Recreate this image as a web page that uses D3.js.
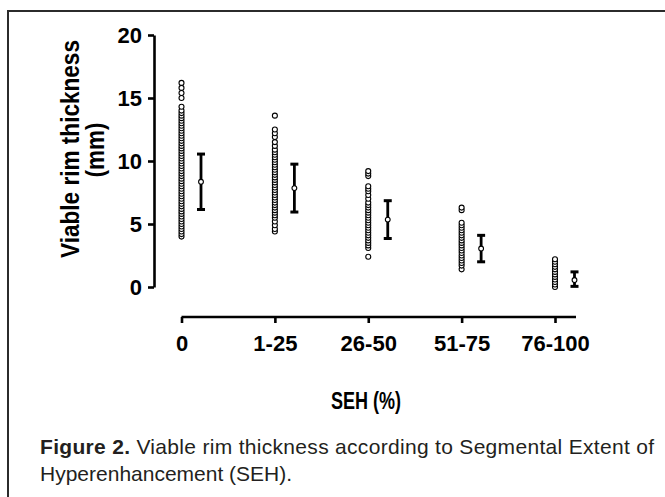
<!DOCTYPE html>
<html><head><meta charset="utf-8">
<script src="https://cdn.jsdelivr.net/npm/d3@7"></script>
<style>
html,body{margin:0;padding:0;background:#fff;}
svg{display:block;}
</style></head>
<body>
<svg id="chart" width="665" height="497"></svg>
<script>
const categories = ["0", "1-25", "26-50", "51-75", "76-100"];
const yTicks = [0, 5, 10, 15, 20];
const seg0 = [4.0,4.2,4.4,4.6,4.8,5.0,5.2,5.4,5.6,5.8,6.0,6.2,6.4,6.6,6.8,7.0,7.2,7.4,7.6,7.8,8.0,8.2,8.4,8.6,8.8,9.0,9.2,9.4,9.6,9.8,10.0,10.2,10.4,10.6,10.8,11.0,11.2,11.4,11.6,11.8,12.0,12.2,12.4,12.6,12.8,13.0,13.2,13.4,13.6,13.8,14.0,14.3,15.0,15.4,15.8,16.2];
const seg1 = [4.4,4.6,4.9,5.2,5.5,5.7,5.9,6.1,6.3,6.5,6.7,6.9,7.1,7.3,7.5,7.7,7.9,8.1,8.3,8.5,8.7,8.9,9.1,9.3,9.5,9.7,9.9,10.1,10.3,10.5,10.7,10.9,11.2,11.5,11.9,12.2,12.5,13.6];
const seg2 = [2.4,3.1,3.3,3.5,3.7,3.9,4.1,4.3,4.5,4.7,4.9,5.1,5.3,5.5,5.7,5.9,6.1,6.3,6.5,6.7,7.0,7.3,7.6,7.8,8.0,8.8,9.0,9.2];
const seg3 = [1.4,1.7,1.9,2.1,2.3,2.5,2.7,2.9,3.1,3.3,3.5,3.7,3.9,4.1,4.3,4.5,4.7,4.9,5.1,6.1,6.3];
const seg4 = [0.0,0.2,0.4,0.6,0.8,1.0,1.2,1.4,1.6,1.8,2.0,2.2];
const means = [8.35, 7.85, 5.35, 3.05, 0.55];
const lowers = [6.15, 5.95, 3.85, 2.0, 0.05];
const uppers = [10.55, 9.75, 6.85, 4.1, 1.2];

const groups = [seg0, seg1, seg2, seg3, seg4];
const svg = d3.select("#chart");
const FONT = "'Liberation Sans', Arial, Helvetica, sans-serif";

// frame
svg.append("rect").attr("x", 8).attr("y", 11).attr("width", 680).attr("height", 520)
  .attr("fill", "none").attr("stroke", "#2b2b2b").attr("stroke-width", 2);

const y = d3.scaleLinear().domain([0, 20]).range([287, 35]);
const x = d3.scalePoint().domain(categories).range([181.5, 555]);
const barOffset = 19.5;

// Y axis
const yAxis = svg.append("g").attr("transform", "translate(154,0)")
  .call(d3.axisLeft(y).tickValues(yTicks).tickSize(6).tickSizeOuter(0).tickPadding(6));
yAxis.select(".domain").attr("stroke", "#000").attr("stroke-width", 2.6);
yAxis.selectAll(".tick line").attr("stroke", "#000").attr("stroke-width", 2.6);
yAxis.selectAll(".tick text").attr("font-family", FONT).attr("font-weight", "bold")
  .attr("font-size", 22).attr("fill", "#000");

// X axis
const xAxis = svg.append("g").attr("transform", "translate(0,317)")
  .call(d3.axisBottom(x).tickSize(6).tickSizeOuter(0).tickPadding(12));
xAxis.select(".domain").attr("d", "M" + x.range()[0] + ",0H" + (x.range()[1] + 21))
  .attr("stroke", "#000").attr("stroke-width", 2.6);
xAxis.selectAll(".tick line").attr("stroke", "#000").attr("stroke-width", 2.6);
xAxis.selectAll(".tick text").attr("font-family", FONT).attr("font-weight", "bold")
  .attr("font-size", 22).attr("fill", "#000");

// dots
groups.forEach((vals, i) => {
  svg.append("g").selectAll("circle").data(vals).join("circle")
    .attr("cx", x(categories[i])).attr("cy", d => y(d)).attr("r", 2.5)
    .attr("fill", "#fff").attr("stroke", "#000").attr("stroke-width", 1.1);
});

// error bars
const eb = svg.append("g");
categories.forEach((c, i) => {
  const cx = x(c) + barOffset;
  eb.append("line").attr("x1", cx).attr("x2", cx).attr("y1", y(lowers[i])).attr("y2", y(uppers[i]))
    .attr("stroke", "#000").attr("stroke-width", 2.8);
  [lowers[i], uppers[i]].forEach(v => {
    eb.append("line").attr("x1", cx - 4).attr("x2", cx + 4).attr("y1", y(v)).attr("y2", y(v))
      .attr("stroke", "#000").attr("stroke-width", 3);
  });
  eb.append("circle").attr("cx", cx).attr("cy", y(means[i])).attr("r", 2.4)
    .attr("fill", "#fff").attr("stroke", "#000").attr("stroke-width", 1.1);
});

// Y title
svg.append("text").attr("transform", "translate(79,149) rotate(-90)")
  .attr("text-anchor", "middle").attr("font-family", FONT).attr("font-weight", "bold")
  .attr("font-size", 25).attr("fill", "#000")
  .attr("textLength", 218).attr("lengthAdjust", "spacingAndGlyphs")
  .text("Viable rim thickness");
svg.append("text").attr("transform", "translate(104,150) rotate(-90)")
  .attr("text-anchor", "middle").attr("font-family", FONT).attr("font-weight", "bold")
  .attr("font-size", 25).attr("fill", "#000")
  .attr("textLength", 55).attr("lengthAdjust", "spacingAndGlyphs")
  .text("(mm)");

// X title
svg.append("text").attr("x", 366).attr("y", 409).attr("text-anchor", "middle")
  .attr("font-family", FONT).attr("font-weight", "bold").attr("font-size", 24)
  .attr("fill", "#000").attr("textLength", 70).attr("lengthAdjust", "spacingAndGlyphs")
  .text("SEH (%)");

// caption
const cap1 = svg.append("text").attr("x", 40).attr("y", 454)
  .attr("font-family", FONT).attr("font-size", 21).attr("fill", "#231f20")
  .attr("textLength", 614).attr("lengthAdjust", "spacing");
cap1.append("tspan").attr("font-weight", "bold").text("Figure 2.");
cap1.append("tspan").text(" Viable rim thickness according to Segmental Extent of");
svg.append("text").attr("x", 40).attr("y", 481)
  .attr("font-family", FONT).attr("font-size", 21).attr("fill", "#231f20")
  .text("Hyperenhancement (SEH).");
</script>
</body></html>
